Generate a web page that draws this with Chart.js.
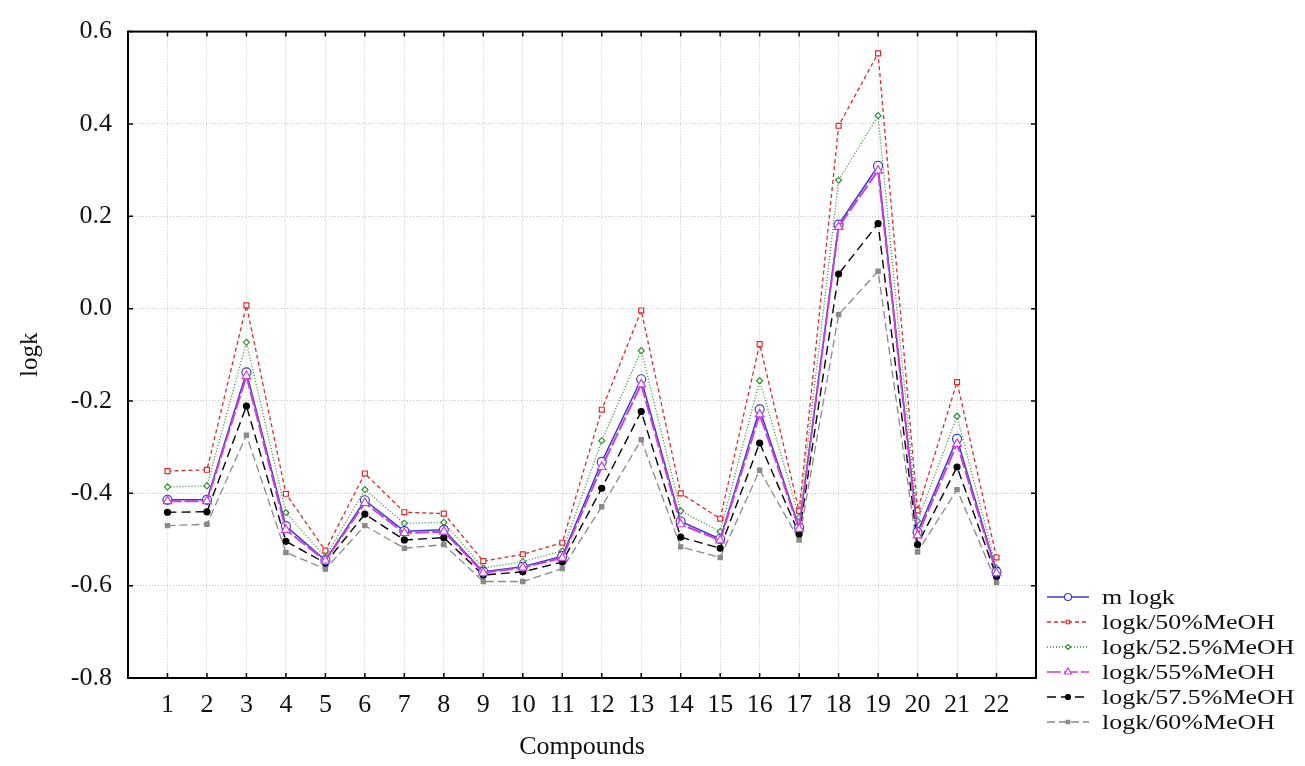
<!DOCTYPE html>
<html>
<head>
<meta charset="utf-8">
<title>logk vs compounds</title>
<script src="https://cdn.jsdelivr.net/npm/chart.js@4.4.1/dist/chart.umd.min.js"></script>
<style>
    html, body { margin: 0; padding: 0; background: #fff; }
    #wrap { width: 1305px; height: 766px; }
</style>
</head>
<body>
<div id="wrap"><canvas id="chart" width="1305" height="766"></canvas></div>
<script>
const categories = ['1', '2', '3', '4', '5', '6', '7', '8', '9', '10', '11',
    '12', '13', '14', '15', '16', '17', '18', '19', '20', '21', '22'];

const mLogk = [-0.414, -0.414, -0.138, -0.471, -0.545, -0.415, -0.482, -0.479, -0.570, -0.559, -0.536,
    -0.332, -0.153, -0.461, -0.499, -0.218, -0.474, 0.182, 0.309, -0.484, -0.282, -0.570];
const logk50 = [-0.352, -0.349, 0.007, -0.401, -0.524, -0.357, -0.441, -0.444, -0.547, -0.532, -0.507,
    -0.219, -0.004, -0.400, -0.455, -0.077, -0.438, 0.396, 0.553, -0.437, -0.159, -0.539];
const logk525 = [-0.386, -0.384, -0.073, -0.442, -0.538, -0.392, -0.465, -0.463, -0.562, -0.548, -0.525,
    -0.286, -0.091, -0.438, -0.483, -0.156, -0.452, 0.278, 0.418, -0.460, -0.233, -0.562];
const logk55 = [-0.417, -0.417, -0.146, -0.479, -0.546, -0.421, -0.486, -0.483, -0.572, -0.561, -0.540,
    -0.343, -0.164, -0.467, -0.502, -0.229, -0.477, 0.177, 0.299, -0.491, -0.293, -0.573];
const logk575 = [-0.441, -0.440, -0.211, -0.504, -0.551, -0.445, -0.501, -0.496, -0.577, -0.570, -0.549,
    -0.389, -0.223, -0.495, -0.519, -0.291, -0.488, 0.075, 0.184, -0.511, -0.343, -0.580];
const logk60 = [-0.470, -0.467, -0.274, -0.528, -0.564, -0.470, -0.519, -0.511, -0.591, -0.591, -0.563,
    -0.429, -0.284, -0.516, -0.539, -0.350, -0.501, -0.013, 0.081, -0.527, -0.392, -0.593];

const yTickValues = [-0.8, -0.6, -0.4, -0.2, 0.0, 0.2, 0.4, 0.6];

const FONT = '"Liberation Serif", "Times New Roman", serif';

// x positions are 1..22 on a linear axis running 0..23
const toPoints = (values) => values.map((v, i) => ({ x: i + 1, y: v }));

const series = [
    { label: 'm logk', data: mLogk, color: '#3b3bcf', dash: [], width: 1.5,
      point: 'circle', radius: 4.5, fill: '#ffffff' },
    { label: 'logk/50%MeOH', data: logk50, color: '#dd2b2b', dash: [4, 3], width: 1.3,
      point: 'rect', radius: 3.5, fill: '#ffffff' },
    { label: 'logk/52.5%MeOH', data: logk525, color: '#2f8f2f', dash: [1, 2], width: 1.3,
      point: 'rectRot', radius: 3, fill: '#ffffff' },
    { label: 'logk/55%MeOH', data: logk55, color: '#cc3fdc', dash: [14, 3], width: 2,
      point: 'triangle', radius: 5, fill: '#ffffff' },
    { label: 'logk/57.5%MeOH', data: logk575, color: '#000000', dash: [9, 5], width: 1.4,
      point: 'circle', radius: 3, fill: '#000000' },
    { label: 'logk/60%MeOH', data: logk60, color: '#8a8a8a', dash: [8, 4], width: 1.3,
      point: 'rect', radius: 3, fill: '#8a8a8a' },
];

const datasets = series.map((s, i) => ({
    label: s.label,
    data: toPoints(s.data),
    borderColor: s.color,
    borderWidth: s.width,
    borderDash: s.dash,
    backgroundColor: s.fill,
    pointStyle: s.point,
    pointRadius: s.radius,
    pointBorderWidth: 1.2,
    pointBorderColor: s.color,
    pointBackgroundColor: s.fill,
    tension: 0,
    fill: false,
    // blue and magenta on top, like the reference
    order: [1, 3, 4, 0, 2, 5][i],
}));

// frame, inward tick marks and the legend at the lower right
const framePlugin = {
    id: 'frameAndLegend',
    afterDraw(chart) {
        const ctx = chart.ctx;
        const area = chart.chartArea;
        const xs = chart.scales.x;
        const ys = chart.scales.y;
        ctx.save();

        ctx.strokeStyle = '#000';
        ctx.lineWidth = 2;
        ctx.setLineDash([]);
        ctx.strokeRect(area.left, area.top, area.right - area.left, area.bottom - area.top);

        ctx.lineWidth = 1.5;
        ctx.beginPath();
        xs.ticks.forEach(t => {
            const px = xs.getPixelForValue(t.value);
            ctx.moveTo(px, area.bottom); ctx.lineTo(px, area.bottom - 5);
            ctx.moveTo(px, area.top); ctx.lineTo(px, area.top + 5);
        });
        ys.ticks.forEach(t => {
            const py = ys.getPixelForValue(t.value);
            ctx.moveTo(area.left, py); ctx.lineTo(area.left + 5, py);
            ctx.moveTo(area.right, py); ctx.lineTo(area.right - 5, py);
        });
        ctx.stroke();

        // legend
        const x0 = area.right + 11;
        const x1 = area.right + 53;
        const textX = area.right + 66;
        let y = 597;
        chart.data.datasets.forEach((ds) => {
            ctx.strokeStyle = ds.borderColor;
            ctx.lineWidth = Math.min(ds.borderWidth, 1.5);
            ctx.setLineDash(ds.borderDash);
            ctx.beginPath();
            ctx.moveTo(x0, y);
            ctx.lineTo(x1, y);
            ctx.stroke();
            ctx.setLineDash([]);
            ctx.lineWidth = 1.2;
            ctx.fillStyle = ds.pointBackgroundColor;
            Chart.helpers.drawPoint(ctx, {
                pointStyle: ds.pointStyle,
                radius: Math.max(ds.pointRadius - 1, 2.5),
                rotation: 0,
                borderWidth: 1.2,
            }, (x0 + x1) / 2, y);

            ctx.save();
            ctx.translate(textX, y);
            ctx.scale(1.18, 1);
            ctx.fillStyle = '#111';
            ctx.font = '22px ' + FONT;
            ctx.textBaseline = 'middle';
            ctx.fillText(ds.label, 0, 1);
            ctx.restore();
            y += 25;
        });
        ctx.restore();
    }
};

new Chart(document.getElementById('chart'), {
    type: 'line',
    data: { datasets: datasets },
    options: {
        responsive: false,
        animation: false,
        layout: { padding: { top: 22, right: 269, bottom: 0, left: 0 } },
        plugins: {
            legend: { display: false },
            tooltip: { enabled: false },
        },
        scales: {
            x: {
                type: 'linear',
                min: 0,
                max: 23,
                afterBuildTicks: (scale) => {
                    scale.ticks = categories.map((c, i) => ({ value: i + 1 }));
                },
                afterFit: (scale) => { scale.height = 88; },
                ticks: {
                    autoSkip: false,
                    maxRotation: 0,
                    padding: 12,
                    color: '#111',
                    font: { family: FONT, size: 26 },
                    callback: (value, index) => categories[index],
                },
                grid: {
                    color: '#c4c4c4',
                    lineWidth: 1,
                    drawTicks: false,
                    tickBorderDash: [1, 2],
                },
                border: { display: false, dash: [1, 2] },
                title: {
                    display: true,
                    text: 'Compounds',
                    color: '#111',
                    font: { family: FONT, size: 26 },
                    padding: { top: 0, bottom: 3 },
                },
            },
            y: {
                min: -0.8,
                max: 0.6,
                afterBuildTicks: (scale) => {
                    scale.ticks = yTickValues.map(v => ({ value: v }));
                },
                afterFit: (scale) => { scale.width = 128; },
                ticks: {
                    padding: 16,
                    color: '#111',
                    font: { family: FONT, size: 26 },
                    callback: (value) => (Math.abs(value) < 1e-9 ? 0 : value).toFixed(1),
                },
                grid: {
                    color: '#c4c4c4',
                    lineWidth: 1,
                    drawTicks: false,
                },
                border: { display: false, dash: [1, 2] },
                title: {
                    display: true,
                    text: 'logk',
                    color: '#111',
                    font: { family: FONT, size: 25 },
                    padding: { top: 15, bottom: 0 },
                },
            },
        },
    },
    plugins: [framePlugin],
});
</script>
</body>
</html>
